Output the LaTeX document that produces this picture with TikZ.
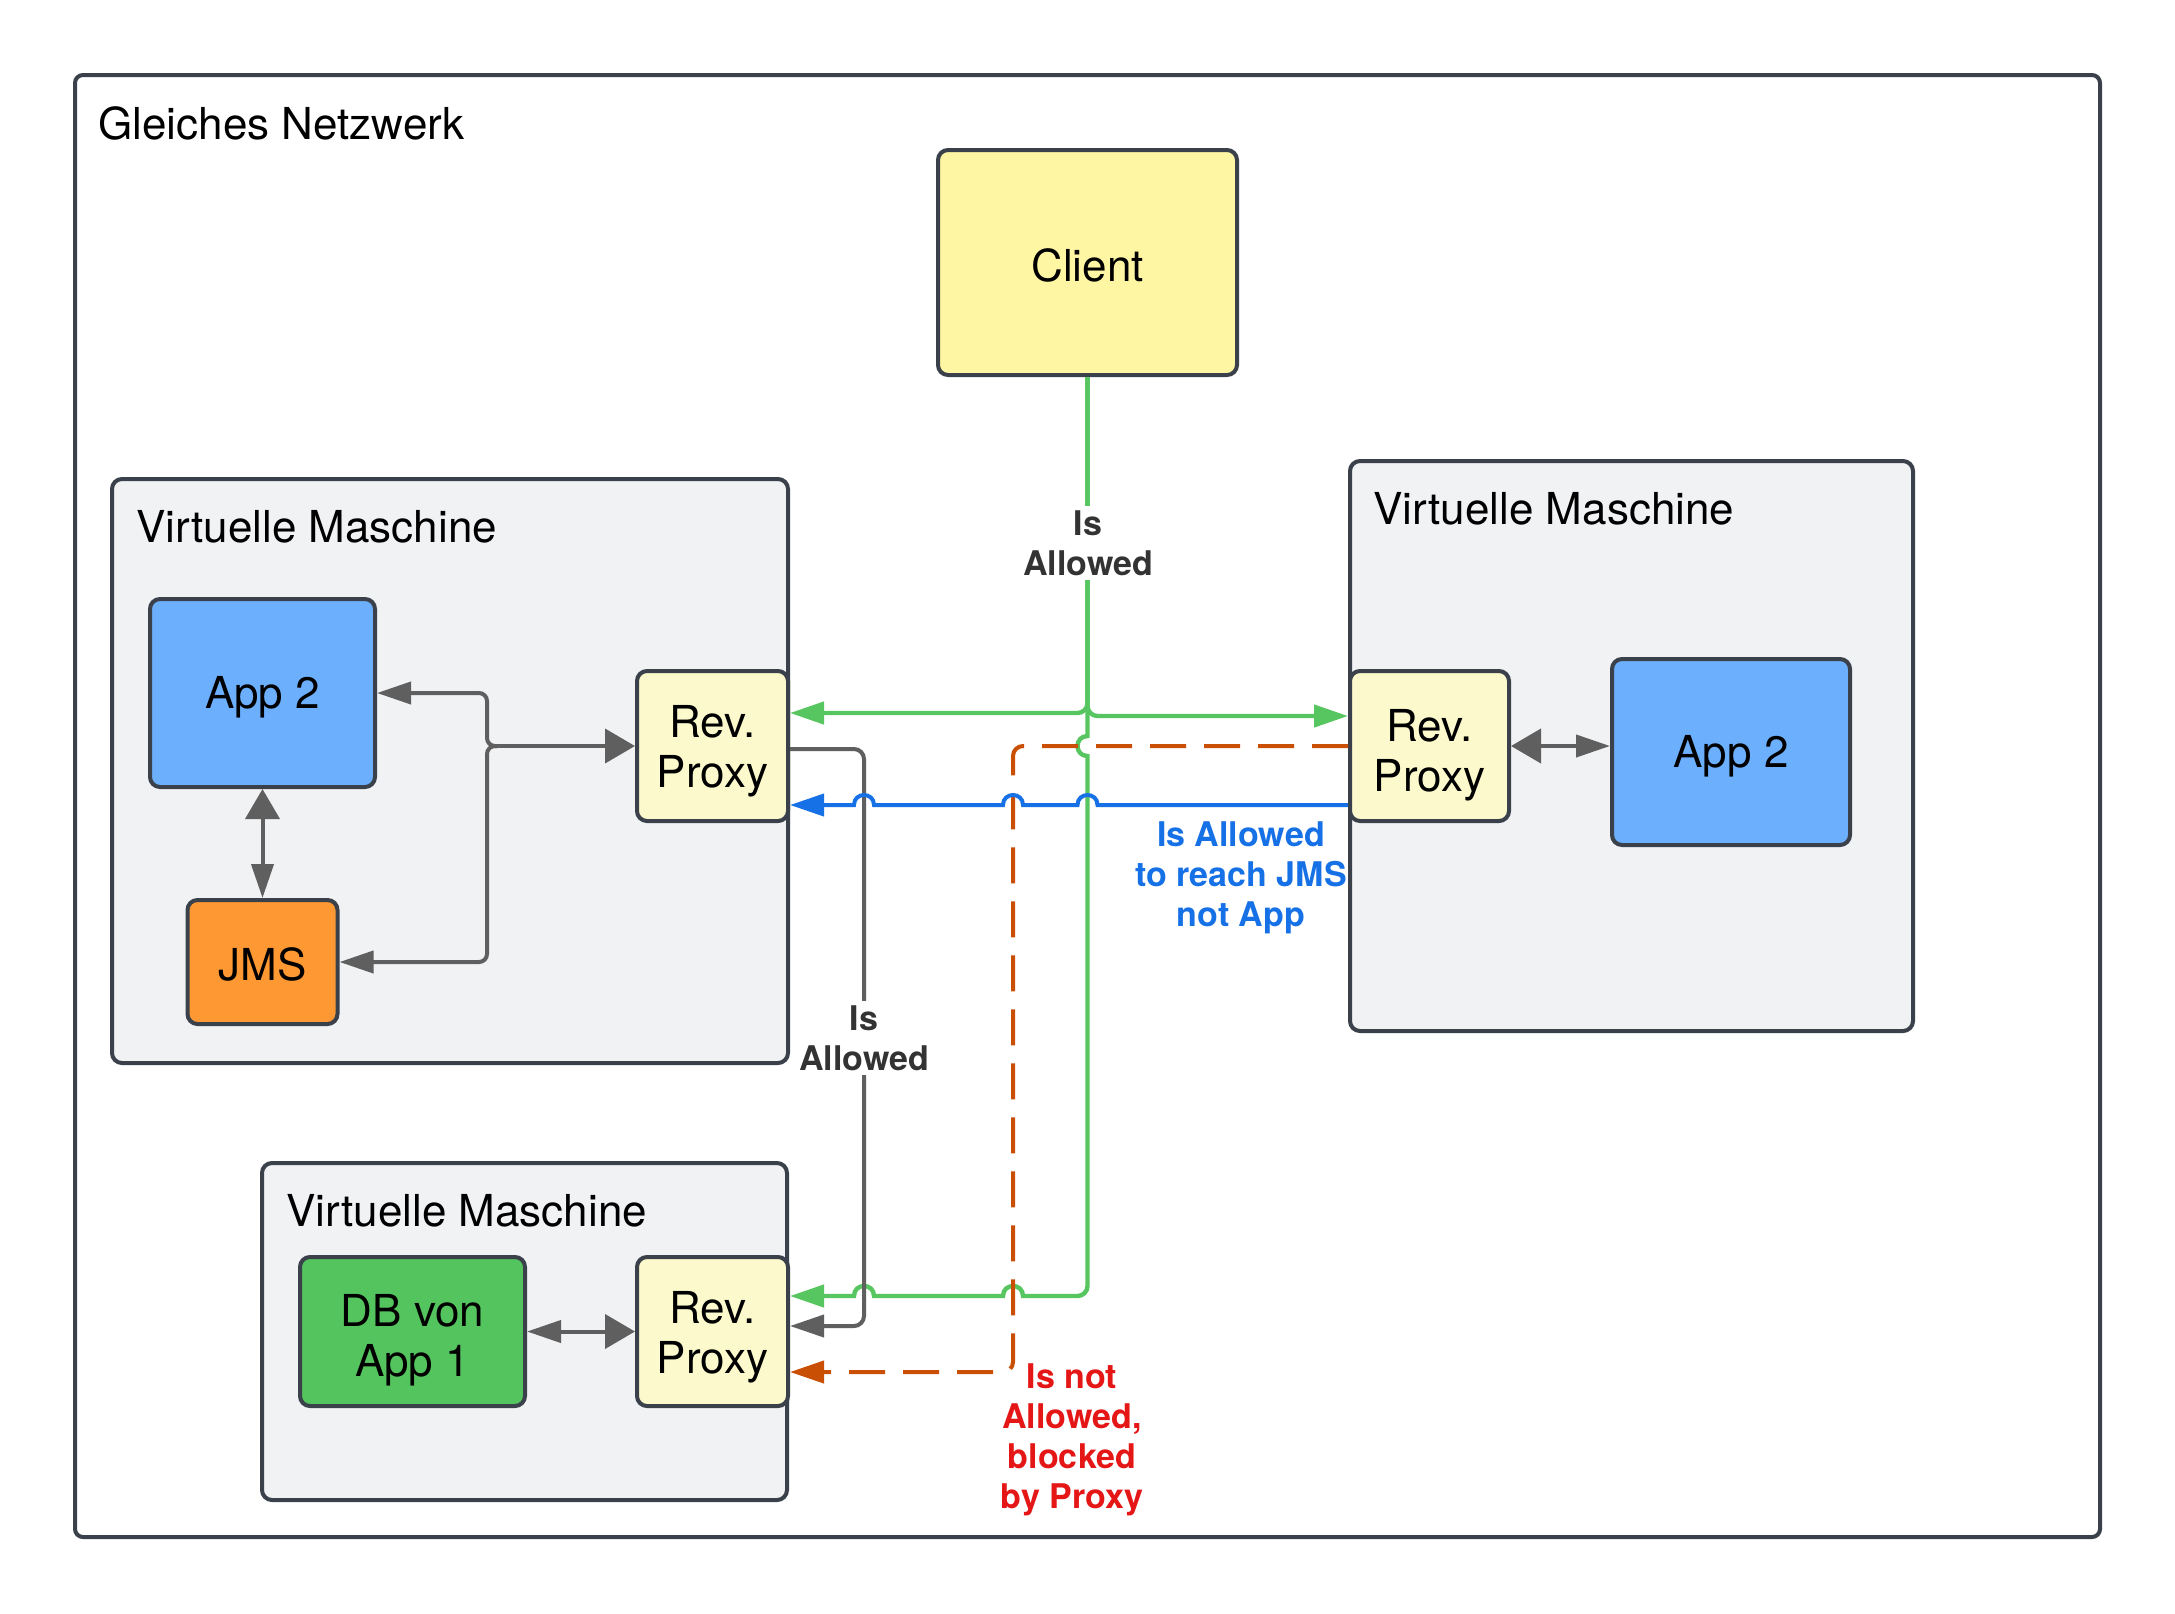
\documentclass[tikz,border=0pt]{standalone}
\usepackage{fontspec}
\setmainfont{TeX Gyre Heros}
\usetikzlibrary{arrows.meta,calc}

\definecolor{bordercol}{RGB}{58,65,74}
\definecolor{vmfill}{RGB}{241,242,244}
\definecolor{clientfill}{RGB}{255,246,164}
\definecolor{proxyfill}{RGB}{252,250,204}
\definecolor{appfill}{RGB}{108,175,253}
\definecolor{jmsfill}{RGB}{253,152,51}
\definecolor{dbfill}{RGB}{84,196,94}
\definecolor{greenline}{RGB}{88,198,96}
\definecolor{blueline}{RGB}{23,113,230}
\definecolor{orangeline}{RGB}{201,79,5}
\definecolor{redtext}{RGB}{229,22,22}
\definecolor{grayline}{RGB}{95,95,95}
\definecolor{labeldark}{RGB}{51,51,51}

\tikzset{
  ntip/.tip={Triangle[length=17pt,width=11pt]},
  wtip/.tip={Triangle[length=15pt,width=17pt]},
  box/.style={draw=bordercol, line width=2pt, rounded corners=5pt, inner sep=0pt},
  container/.style={box, fill=vmfill},
  boxtext/.style={align=center, inner sep=0pt, font=\fontsize{22}{25}\selectfont},
  title/.style={anchor=west, inner sep=0pt, font=\fontsize{22}{25}\selectfont},
  link/.style={line width=2pt},
  gline/.style={link, line width=2.2pt, draw=greenline},
  bline/.style={link, draw=blueline},
  oline/.style={link, draw=orangeline, dash pattern=on 18pt off 9pt},
  grline/.style={link, draw=grayline},
  lbl/.style={align=center, inner sep=2pt, font=\bfseries\fontsize{17}{20}\selectfont},
}

\begin{document}
\begin{tikzpicture}[x=0.5pt,y=-0.5pt]
\useasboundingbox (0,0) rectangle (2175,1613);

% network frame
\node[box, fill=white, rounded corners=4pt, minimum width=1012.5pt, minimum height=731pt] (net) at (1087.5,806) {};
\node[title] (nettitle) at (98,123) {Gleiches Netzwerk};

% client
\node[box, fill=clientfill, minimum width=149.5pt, minimum height=112.5pt] (client) at (1087.5,262.5) {};
\node[boxtext] (clienttext) at ([yshift=-1.4pt]client.center) {Client};

% left virtual machine
\node[container, minimum width=338pt, minimum height=292pt] (vmL) at (450,771) {};
\node[title] (vmLtitle) at (136,527) {Virtuelle Maschine};
\node[box, fill=appfill, minimum width=112.5pt, minimum height=94pt] (app2L) at (262.5,693) {};
\node[boxtext] (app2Ltext) at ([yshift=-2.1pt]app2L.center) {App 2};
\node[box, fill=jmsfill, minimum width=75pt, minimum height=62pt] (jms) at (262.5,962) {};
\node[boxtext] (jmstext) at ([yshift=-1.4pt]jms.center) {JMS};
\node[box, fill=proxyfill, minimum width=75.5pt, minimum height=75pt] (proxyL) at (712.5,746) {};
\node[boxtext] (proxyLtext) at ([yshift=-2.8pt]proxyL.center) {Rev.\\Proxy};

% right virtual machine
\node[container, minimum width=281.5pt, minimum height=285pt] (vmR) at (1631.5,746) {};
\node[title] (vmRtitle) at (1373,509) {Virtuelle Maschine};
\node[box, fill=proxyfill, minimum width=79.5pt, minimum height=75pt] (proxyR) at (1429.5,746) {};
\node[boxtext] (proxyRtext) at ([yshift=-4.6pt]proxyR.center) {Rev.\\Proxy};
\node[box, fill=appfill, minimum width=119pt, minimum height=93pt] (app2R) at (1731,752) {};
\node[boxtext] (app2Rtext) at ([yshift=-2.1pt]app2R.center) {App 2};

% bottom virtual machine
\node[container, minimum width=262.5pt, minimum height=168.5pt] (vmB) at (524.5,1331.5) {};
\node[title] (vmBtitle) at (286,1211) {Virtuelle Maschine};
\node[box, fill=dbfill, minimum width=112.5pt, minimum height=74.5pt] (db) at (412.5,1331.5) {};
\node[boxtext] (dbtext) at ([yshift=-4.6pt]db.center) {DB von\\App 1};
\node[box, fill=proxyfill, minimum width=75.5pt, minimum height=74.5pt] (proxyB) at (712.5,1331.5) {};
\node[boxtext] (proxyBtext) at ([yshift=-2.8pt]proxyB.center) {Rev.\\Proxy};

% client to the proxies
\draw[gline, rounded corners=5pt, -{ntip}] (client.south) |- ($(proxyL.east)+(0,-33)$);
\draw[gline, rounded corners=5pt, -{ntip}] (client.south) |- ($(proxyR.west)+(0,-30)$);
\draw[gline, -{ntip}] (client.south) -- (1087.5,736)
  .. controls (1074.2,736) and (1074.2,756) .. (1087.5,756)
  -- (1087.5,1286) .. controls (1087.5,1291.5) and (1083,1296) .. (1077.5,1296)
  -- (1023,1296) .. controls (1023,1282.7) and (1003,1282.7) .. (1003,1296)
  -- (874,1296) .. controls (874,1282.7) and (854,1282.7) .. (854,1296)
  -- ($(proxyB.east)+(0,-35.5)$);

% proxy to proxy
\draw[grline, rounded corners=5pt, -{ntip}] ($(proxyL.east)+(0,3)$) -- (864,749) -- (864,1326) -- ($(proxyB.east)+(0,-5.5)$);
\draw[oline, rounded corners=5pt, -{ntip}] (proxyR.west) -- (1013,746) -- (1013,1372) -- ($(proxyB.east)+(0,40.5)$);
\draw[bline, -{ntip}] ($(proxyR.west)+(0,59)$) -- (1097.5,805)
  .. controls (1097.5,791.7) and (1077.5,791.7) .. (1077.5,805)
  -- (1023,805) .. controls (1023,791.7) and (1003,791.7) .. (1003,805)
  -- (874,805) .. controls (874,791.7) and (854,791.7) .. (854,805)
  -- ($(proxyL.east)+(0,59)$);

% inside the left machine
\coordinate (jct) at (497,746);
\draw[grline, -{wtip}] (jct) -- (proxyL.west);
\draw[grline, rounded corners=4pt, -{ntip}] (jct) -- (487,746) -- (487,693) -- (app2L.east);
\draw[grline, rounded corners=4pt, -{ntip}] (jct) -- (487,746) -- (487,962) -- (jms.east);
\draw[grline, {wtip}-{ntip}] (app2L.south) -- (app2L.south |- jms.north);

% inside the other machines
\draw[grline, {ntip}-{wtip}] (db.east) -- (proxyB.west);
\draw[grline, {wtip}-{ntip}] (proxyR.east) -- (proxyR.east -| app2R.west);

% labels
\node[lbl, fill=white, text=labeldark] (lblclient) at (1088,543) {Is\\Allowed};
\node[lbl, fill=white, text=labeldark] (lblgray) at (864,1038) {Is\\Allowed};
\node[lbl, text=blueline] (lblblue) at (1241,878) {Is Allowed\\to reach JMS\\not App};
\node[lbl, text=redtext] (lblred) at (1072,1440) {Is not\\Allowed,\\blocked\\by Proxy};
\end{tikzpicture}
\end{document}
